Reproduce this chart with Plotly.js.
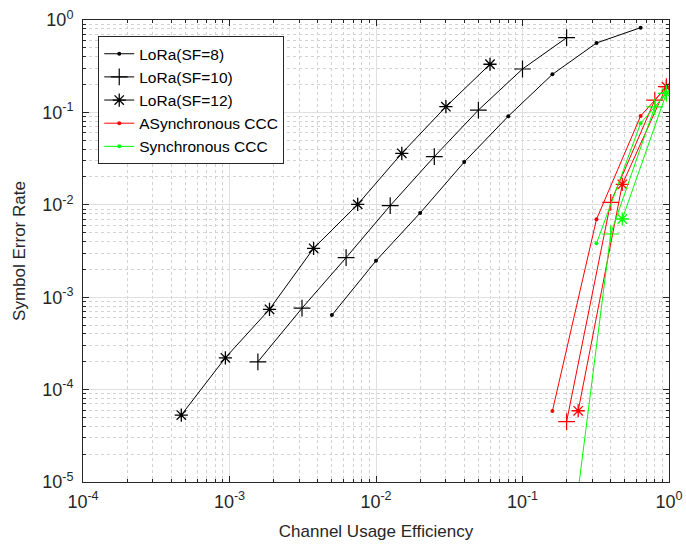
<!DOCTYPE html>
<html>
<head>
<meta charset="utf-8">
<script src="https://cdn.plot.ly/plotly-3.0.1.min.js"></script>
<style>html,body{margin:0;padding:0;background:#fff;}#chart{width:686px;height:548px;}</style>
</head>
<body>
<div id="chart"></div>
<script>
// LoRa reference curves
const sf8X = [0.005, 0.01, 0.02, 0.04, 0.08, 0.16, 0.32, 0.64];
const sf8Y = [6.4e-4, 2.48e-3, 8.15e-3, 2.9e-2, 9.1e-2, 0.258, 0.564, 0.826];
const sf10X = [0.0015625, 0.003125, 0.00625, 0.0125, 0.025, 0.05, 0.1, 0.2];
const sf10Y = [2.0e-4, 7.6e-4, 2.68e-3, 9.8e-3, 3.32e-2, 0.106, 0.295, 0.643];
const sf12X = [0.00046875, 0.0009375, 0.001875, 0.00375, 0.0075, 0.015, 0.03, 0.06];
const sf12Y = [5.3e-5, 2.21e-4, 7.4e-4, 3.38e-3, 1.01e-2, 3.61e-2, 0.1153, 0.332];
// Asynchronous CCC (red)
const asyncDotX = [0.16, 0.32, 0.64, 0.96];
const asyncDotY = [5.86e-5, 6.97e-3, 9.14e-2, 0.187];
const asyncPlusX = [0.2, 0.4, 0.8, 0.96];
const asyncPlusY = [4.5e-5, 1.064e-2, 0.136, 0.19];
const asyncStarX = [0.24, 0.48, 0.96];
const asyncStarY = [5.9e-5, 1.667e-2, 0.19];
// Synchronous CCC (green)
const syncDotX = [0.32, 0.64, 0.96];
const syncDotY = [3.83e-3, 7.62e-2, 0.161];
const syncPlusX = [0.2, 0.4, 0.8, 0.96];
const syncPlusY = [8.4e-7, 4.83e-3, 0.115, 0.161];
const syncStarX = [0.48, 0.96];
const syncStarY = [7.02e-3, 0.161];
// tick labels
const xTickVals = [1e-4, 1e-3, 1e-2, 1e-1, 1];
const xTickText = ['10<sup>-4</sup>', '10<sup>-3</sup>', '10<sup>-2</sup>', '10<sup>-1</sup>', '10<sup>0</sup>'];
const yTickVals = [1e-5, 1e-4, 1e-3, 1e-2, 1e-1, 1];
const yTickText = ['10<sup>-5</sup>', '10<sup>-4</sup>', '10<sup>-3</sup>', '10<sup>-2</sup>', '10<sup>-1</sup>', '10<sup>0</sup>'];

function minorVals(lo, hi) {
  const v = [];
  for (let e = lo; e < hi; e++) for (let m = 2; m <= 9; m++) v.push(m * Math.pow(10, e));
  return v;
}

const BLACK = '#000000', RED = '#ff0000', GREEN = '#00ff00';
const dotM = c => ({symbol: 'circle', size: 4, color: c});
const plusM = c => ({symbol: 'cross-thin-open', size: 12, color: c, line: {color: c, width: 1.2}});
const starM = c => ({symbol: 'asterisk-open', size: 11, color: c, line: {color: c, width: 1.3}});

function tr(x, y, name, color, marker, show) {
  return {x: x, y: y, name: name, type: 'scatter', mode: 'lines+markers',
    line: {color: color, width: 1}, marker: marker, showlegend: show,
    hoverinfo: 'skip', legendgroup: name};
}

const data = [
  tr(sf8X, sf8Y, 'LoRa(SF=8)', BLACK, dotM(BLACK), true),
  tr(sf10X, sf10Y, 'LoRa(SF=10)', BLACK, plusM(BLACK), true),
  tr(sf12X, sf12Y, 'LoRa(SF=12)', BLACK, starM(BLACK), true),
  tr(asyncDotX, asyncDotY, 'ASynchronous CCC', RED, dotM(RED), true),
  tr(asyncPlusX, asyncPlusY, 'ASynchronous CCC', RED, plusM(RED), false),
  tr(asyncStarX, asyncStarY, 'ASynchronous CCC', RED, starM(RED), false),
  tr(syncDotX, syncDotY, 'Synchronous CCC', GREEN, dotM(GREEN), true),
  tr(syncPlusX, syncPlusY, 'Synchronous CCC', GREEN, plusM(GREEN), false),
  tr(syncStarX, syncStarY, 'Synchronous CCC', GREEN, starM(GREEN), false)
];

const FONT = 'Liberation Sans, Arial, Helvetica, sans-serif';
function axis(vals, text, lo, hi, title, standoff, lblStandoff) {
  return {
    type: 'log', range: [lo, hi], tickmode: 'array', tickvals: vals, ticktext: text,
    showline: true, linecolor: '#262626', linewidth: 1, mirror: 'ticks',
    ticks: 'inside', ticklen: 6, tickcolor: '#262626', showgrid: true,
    gridcolor: '#e0e0e0', gridwidth: 1, zeroline: false,
    ticklabelstandoff: lblStandoff,
    tickfont: {family: FONT, size: 18, color: '#262626'},
    minor: {tickmode: 'array', tickvals: minorVals(lo, hi), ticks: 'inside', ticklen: 3,
            tickcolor: '#262626', showgrid: true, gridcolor: '#d2d2d2', griddash: 'dot', gridwidth: 1},
    title: {text: title, font: {family: FONT, size: 17, color: '#262626'}, standoff: standoff}
  };
}

const layout = {
  width: 686, height: 548,
  margin: {l: 83, r: 17, t: 20, b: 66},
  paper_bgcolor: '#ffffff', plot_bgcolor: '#ffffff',
  font: {family: FONT, color: '#262626'},
  xaxis: axis(xTickVals, xTickText, -4, 0, 'Channel Usage Efficiency', 14, 3),
  yaxis: axis(yTickVals, yTickText, -5, 0, 'Symbol Error Rate', 12, 5),
  legend: {
    x: 0.026, y: 0.965, xanchor: 'left', yanchor: 'top',
    bgcolor: '#ffffff', bordercolor: '#262626', borderwidth: 1,
    font: {family: FONT, size: 15.5, color: '#000000'}, tracegroupgap: 0
  },
  showlegend: true
};

Plotly.newPlot('chart', data, layout, {staticPlot: true, displayModeBar: false});
</script>
</body>
</html>
